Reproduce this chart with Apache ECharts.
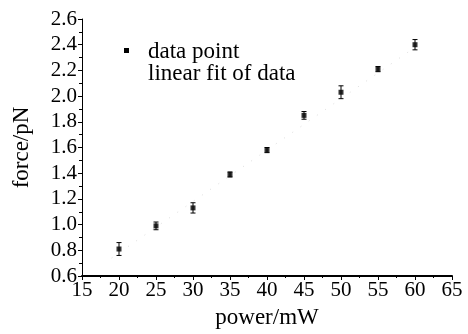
<!DOCTYPE html>
<html><head><meta charset="utf-8">
<script src="https://cdn.jsdelivr.net/npm/echarts@6/dist/echarts.min.js"></script>
<style>html,body{margin:0;padding:0;background:#fff}#c{width:468px;height:334px}</style>
</head><body><div id="c"></div>
<script>
const powers = [20, 25, 30, 35, 40, 45, 50, 55, 60];
const forces = [0.81, 0.99, 1.13, 1.39, 1.58, 1.85, 2.03, 2.21, 2.40];
const errors = [0.05, 0.03, 0.04, 0.02, 0.02, 0.03, 0.05, 0.02, 0.04];
const fitX = [19, 61];
const fitY = [0.74, 2.42];
const xTicks = [15, 20, 25, 30, 35, 40, 45, 50, 55, 60, 65];
const yTicks = [0.6, 0.8, 1.0, 1.2, 1.4, 1.6, 1.8, 2.0, 2.2, 2.4, 2.6];
const legendNames = ['data point', 'linear fit of data'];

const F = '"Liberation Serif", "Times New Roman", serif';
const chart = echarts.init(document.getElementById('c'));
const pts = powers.map((p, i) => [p, forces[i]]);
const errData = powers.map((p, i) => [p, forces[i] - errors[i], forces[i] + errors[i]]);
const fitData = fitX.map((x, i) => [x, fitY[i]]);

chart.setOption({
  animation: false,
  backgroundColor: '#fff',
  textStyle: {fontFamily: F},
  grid: {left: 82, right: 16, top: 19, bottom: 57},
  graphic: [
    {type: 'rect', left: 124, top: 48, shape: {width: 5, height: 5}, style: {fill: '#000'}},
    {type: 'text', left: 148, top: 40, style: {text: legendNames[0], fontFamily: F, fontSize: 23, fill: '#000'}},
    {type: 'text', left: 148, top: 62, style: {text: legendNames[1], fontFamily: F, fontSize: 23, fill: '#000'}}
  ],
  xAxis: {
    type: 'value', min: 15, max: 65, interval: 5,
    name: 'power/mW', nameLocation: 'middle', nameGap: 30,
    nameTextStyle: {fontFamily: F, fontSize: 23, color: '#000'},
    axisLine: {lineStyle: {color: '#000', width: 2}},
    axisTick: {show: true, length: 4, lineStyle: {color: '#000'}},
    minorTick: {show: true, splitNumber: 2, length: 2, lineStyle: {color: '#000'}},
    axisLabel: {fontFamily: F, fontSize: 21, color: '#000', margin: 4,
      formatter: v => xTicks.includes(v) ? String(v) : ''},
    splitLine: {show: false}
  },
  yAxis: {
    type: 'value', min: 0.6, max: 2.6, interval: 0.2,
    name: 'force/pN', nameLocation: 'middle', nameGap: 49,
    nameTextStyle: {fontFamily: F, fontSize: 23, color: '#000'},
    axisLine: {show: true, lineStyle: {color: '#000', width: 1}},
    axisTick: {show: true, length: 4, lineStyle: {color: '#000'}},
    minorTick: {show: true, splitNumber: 2, length: 3, lineStyle: {color: '#000'}},
    axisLabel: {fontFamily: F, fontSize: 21, color: '#000', margin: 5,
      formatter: v => { const t = yTicks.find(y => Math.abs(y - v) < 1e-6); return t !== undefined ? t.toFixed(1) : ''; }},
    splitLine: {show: false}
  },
  series: [
    {
      name: legendNames[1], type: 'line', data: fitData, symbol: 'none',
      lineStyle: {color: '#ddd', width: 1, type: [1, 9]}, z: 1
    },
    {
      name: 'error', type: 'custom', data: errData, z: 2,
      renderItem: (params, api) => {
        const x = api.value(0);
        const lo = api.coord([x, api.value(1)]);
        const hi = api.coord([x, api.value(2)]);
        const s = {stroke: '#000', lineWidth: 1};
        return {type: 'group', children: [
          {type: 'line', shape: {x1: lo[0], y1: lo[1], x2: hi[0], y2: hi[1]}, style: s},
          {type: 'line', shape: {x1: lo[0] - 2.5, y1: lo[1], x2: lo[0] + 2.5, y2: lo[1]}, style: s},
          {type: 'line', shape: {x1: hi[0] - 2.5, y1: hi[1], x2: hi[0] + 2.5, y2: hi[1]}, style: s}
        ]};
      }
    },
    {
      name: legendNames[0], type: 'scatter', data: pts, symbol: 'rect', symbolSize: 5,
      itemStyle: {color: '#000'}, z: 3
    }
  ]
});
</script></body></html>
